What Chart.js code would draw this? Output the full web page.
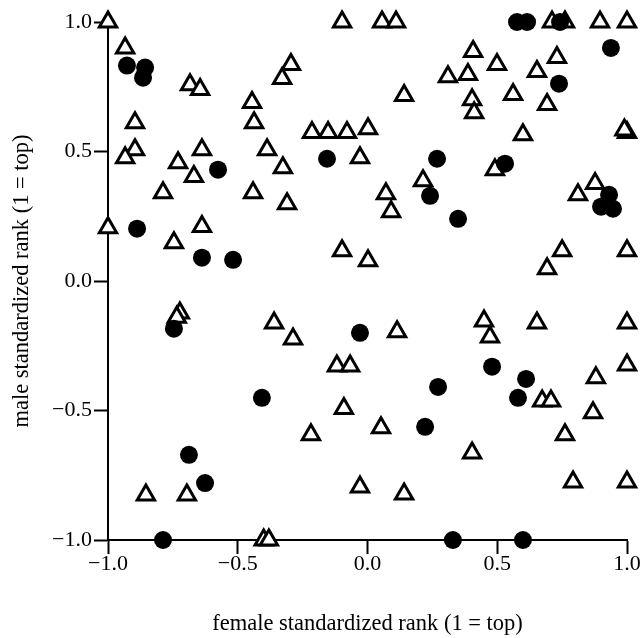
<!DOCTYPE html>
<html>
<head>
<meta charset="utf-8">
<script src="https://cdn.jsdelivr.net/npm/chart.js@4"></script>
<style>
html,body{margin:0;padding:0;background:#fff;}
#wrap{width:642px;height:638px;}
</style>
</head>
<body>
<div id="wrap"><canvas id="c" width="642" height="638"></canvas></div>
<script>
const tickValues = [-1.0, -0.5, 0.0, 0.5, 1.0];
const tickLabels = ["\u22121.0", "\u22120.5", "0.0", "0.5", "1.0"];
const xTitle = "female standardized rank (1 = top)";
const yTitle = "male standardized rank (1 = top)";

const triangleX = [-1.0,-0.934,-0.684,-0.645,-0.445,-0.437,-0.896,-0.098,0.056,0.110,-0.295,-0.329,0.310,0.141,-0.214,-0.152,-0.079,0.002,0.711,0.761,0.896,1.0,0.407,0.730,0.499,0.387,0.653,0.561,0.403,0.411,0.692,0.599,1.0,0.99,-0.896,-0.934,-0.638,-0.387,-0.730,-0.669,-0.788,-0.441,-1.0,-0.638,-0.746,-0.326,-0.029,0.214,0.071,0.091,-0.310,-0.098,0.002,0.491,0.811,0.877,0.750,1.0,0.692,-0.723,-0.735,-0.360,-0.287,0.114,-0.118,-0.067,-0.091,0.449,0.472,0.653,1.0,0.673,0.707,1.0,0.880,0.869,-0.854,-0.696,-0.40,-0.38,-0.218,0.052,-0.029,0.141,0.761,0.403,0.792,1.0];
const triangleY = [1.0,0.90,0.758,0.739,0.689,0.611,0.611,1.0,1.0,1.0,0.836,0.782,0.789,0.716,0.573,0.573,0.573,0.588,1.0,1.0,1.0,1.0,0.886,0.863,0.836,0.797,0.809,0.720,0.700,0.650,0.681,0.565,0.573,0.583,0.507,0.476,0.507,0.507,0.457,0.403,0.341,0.341,0.206,0.210,0.148,0.437,0.476,0.387,0.337,0.267,0.298,0.117,0.078,0.430,0.333,0.376,0.117,0.117,0.047,-0.124,-0.140,-0.162,-0.224,-0.196,-0.328,-0.328,-0.492,-0.154,-0.216,-0.162,-0.162,-0.463,-0.463,-0.324,-0.374,-0.509,-0.826,-0.826,-1.0,-1.0,-0.594,-0.567,-0.795,-0.822,-0.594,-0.664,-0.776,-0.776];

const circleX = [-0.927,-0.857,-0.865,0.576,0.615,0.742,0.938,0.738,-0.576,-0.888,-0.638,-0.518,-0.156,0.268,0.241,0.530,0.931,0.900,0.946,0.349,-0.746,-0.407,-0.029,0.272,0.480,0.611,0.580,-0.688,-0.626,-0.788,0.329,0.599,0.222];
const circleY = [0.832,0.824,0.785,1.0,1.0,1.0,0.90,0.762,0.430,0.202,0.090,0.082,0.472,0.472,0.329,0.453,0.333,0.287,0.279,0.240,-0.184,-0.451,-0.200,-0.409,-0.331,-0.378,-0.451,-0.671,-0.780,-1.0,-1.0,-1.0,-0.563];

const toPts = (xs, ys) => xs.map((x, i) => ({x: x, y: ys[i]}));
const FONT = '"Liberation Serif", "Times New Roman", serif';

function axisCommon(titleText, titlePad, tickPad) {
  return {
    type: 'linear',
    min: -1, max: 1,
    afterBuildTicks: (s) => { s.ticks = tickValues.map(v => ({value: v})); },
    ticks: {
      color: '#000',
      font: {family: FONT, size: 22},
      padding: tickPad,
      callback: (v) => { const i = tickValues.indexOf(v); return i >= 0 ? tickLabels[i] : ''; }
    },
    grid: {display: true, drawOnChartArea: false, drawTicks: true, tickLength: 14, tickWidth: 2, tickColor: '#000'},
    border: {display: true, color: '#000', width: 2},
    title: {display: true, text: titleText, color: '#000', font: {family: FONT, size: 22.5}, padding: titlePad}
  };
}

const xAxis = axisCommon(xTitle, {top: 0, bottom: 0}, -3);
xAxis.afterFit = (s) => { s.height = 98; };
const yAxis = axisCommon(yTitle, {top: 8.5, bottom: 0}, 2);
yAxis.afterFit = (s) => { s.width = 108; };

new Chart(document.getElementById('c'), {
  type: 'scatter',
  data: {
    datasets: [
      {
        label: 'circles',
        data: toPts(circleX, circleY),
        pointStyle: 'circle',
        pointRadius: 9,
        pointHoverRadius: 9,
        backgroundColor: '#000',
        borderColor: '#000',
        borderWidth: 0,
        clip: false
      },
      {
        label: 'triangles',
        data: toPts(triangleX, triangleY),
        pointStyle: 'triangle',
        pointRadius: 10,
        pointHoverRadius: 10,
        backgroundColor: '#fff',
        borderColor: '#000',
        borderWidth: 3,
        clip: false
      }
    ]
  },
  options: {
    responsive: false,
    animation: false,
    devicePixelRatio: 1,
    layout: {padding: {top: 22, right: 15, left: 0, bottom: 0}},
    plugins: {legend: {display: false}, tooltip: {enabled: false}},
    scales: {x: xAxis, y: yAxis}
  }
});
</script>
</body>
</html>
